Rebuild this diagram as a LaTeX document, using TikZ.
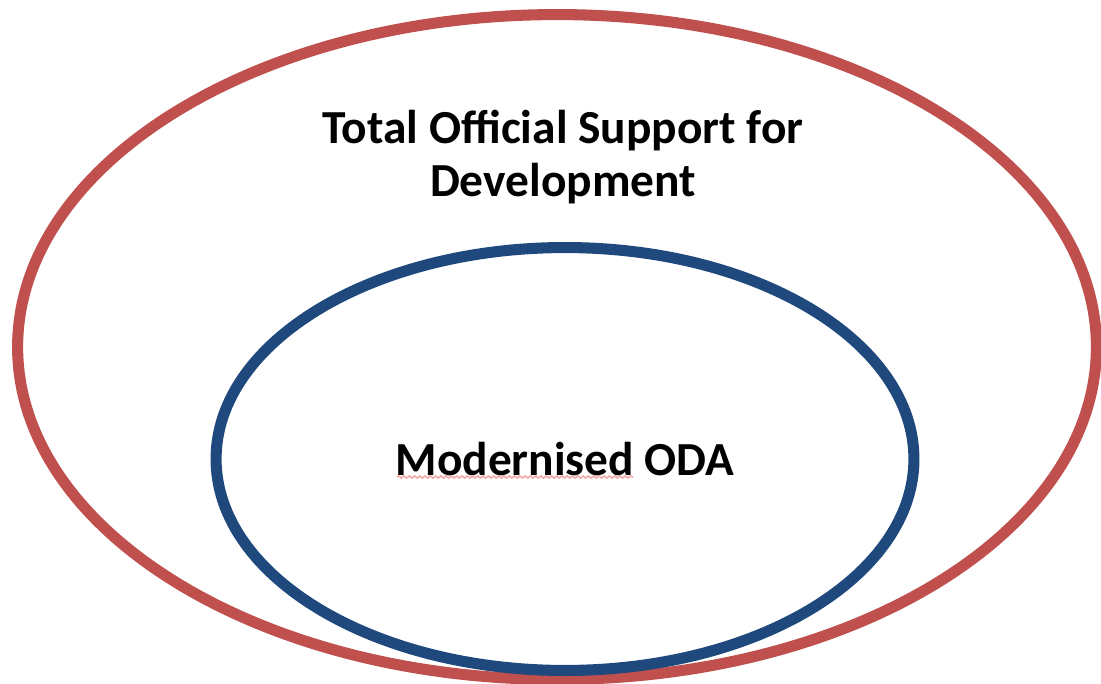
\documentclass[tikz,border=0pt]{standalone}
\usepackage{fontspec}
\setmainfont{Carlito}
\usetikzlibrary{shapes.geometric, decorations.pathmorphing}
\definecolor{ringred}{HTML}{C0504D}
\definecolor{ringblue}{HTML}{1F497D}
\definecolor{spellpink}{HTML}{F4A7A7}
\tikzset{x=0.02cm, y=-0.02cm,
	ring/.style={ellipse, draw, line width=6.3pt, inner sep=0pt, outer sep=0pt},
	outer ring/.style={ring, draw=ringred, minimum width=21.58cm, minimum height=13.3cm},
	inner ring/.style={ring, draw=ringblue, minimum width=13.96cm, minimum height=8.46cm},
	caption/.style={align=center, font=\bfseries\fontsize{27}{30}\selectfont}}

\begin{document}
\begin{tikzpicture}
	\useasboundingbox (0,0) rectangle (1101,683);
	\node[outer ring] (Total) at (557,347) {};
	\node[inner ring] (ODA) at (565,459) {};
	\node[caption] (Total text) at (563,157) {Total Official Support for\\ Development};
	\node[caption] (ODA text) at (565,459) {Modernised ODA};
	\coordinate (squiggle start) at (397,477);
	\coordinate (squiggle end) at (633,477);
	\draw[spellpink, line width=0.9pt, decorate, decoration={snake, amplitude=0.6pt, segment length=3pt}]
		(squiggle start) -- (squiggle end);
\end{tikzpicture}
\end{document}
